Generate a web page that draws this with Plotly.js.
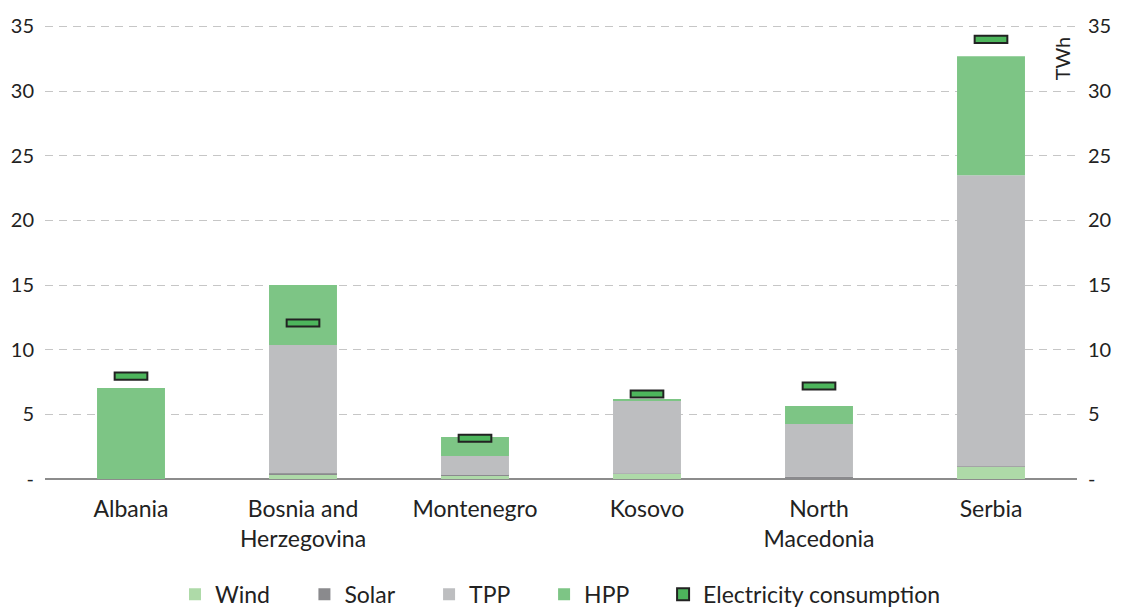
<!DOCTYPE html>
<html>
<head>
<meta charset="utf-8">
<script src="https://cdn.plot.ly/plotly-3.0.1.min.js"></script>
<style>html,body{margin:0;padding:0;background:#fff;}#chart{width:1121px;height:612px;}</style>
</head>
<body>
<div id="chart"></div>
<script>
var countries = ['Albania', 'Bosnia and<br>Herzegovina', 'Montenegro', 'Kosovo', 'North<br>Macedonia', 'Serbia'];
var seriesNames = ['Wind', 'Solar', 'TPP', 'HPP', 'Electricity consumption'];
var wind = [0.0, 0.35, 0.30, 0.40, 0.05, 0.95];
var solar = [0.0, 0.10, 0.01, 0.01, 0.15, 0.02];
var tpp = [0.0, 9.91, 1.47, 5.69, 4.05, 22.52];
var hpp = [7.03, 4.64, 1.47, 0.06, 1.39, 9.2];
var consumption = [7.96, 12.06, 3.15, 6.57, 7.19, 34.0];
var tickVals = [0, 5, 10, 15, 20, 25, 30, 35];
var tickText = ['-', '5', '10', '15', '20', '25', '30', '35'];

function addArr(a, b) { return a.map(function (v, i) { return v + b[i]; }); }
var baseSolar = wind.slice();
var baseTpp = addArr(wind, solar);
var baseHpp = addArr(baseTpp, tpp);

var FONT = 'Lato, "Source Sans Pro", "Noto Sans", sans-serif';
var barW = 0.395;
var consH = 0.55;
var PAD = '\u00a0\u00a0\u00a0\u00a0\u00a0';

var traces = [
  {type: 'bar', name: seriesNames[0] + PAD, x: countries, y: wind, base: 0, width: barW,
   marker: {color: '#aedaa8', line: {width: 0}}, hovertemplate: '%{y}<extra>Wind</extra>'},
  {type: 'bar', name: seriesNames[1] + PAD, x: countries, y: solar, base: baseSolar, width: barW,
   marker: {color: '#8a8a8d', line: {width: 0}}, hovertemplate: '%{y}<extra>Solar</extra>'},
  {type: 'bar', name: seriesNames[2] + PAD, x: countries, y: tpp, base: baseTpp, width: barW,
   marker: {color: '#bdbec0', line: {width: 0}}, hovertemplate: '%{y}<extra>TPP</extra>'},
  {type: 'bar', name: seriesNames[3] + PAD, x: countries, y: hpp, base: baseHpp, width: barW,
   marker: {color: '#7dc585', line: {width: 0}}, hovertemplate: '%{y}<extra>HPP</extra>'},
  {type: 'bar', name: seriesNames[4], x: countries,
   y: consumption.map(function () { return consH; }),
   base: consumption.map(function (v) { return v - consH / 2; }),
   width: 0.19,
   marker: {color: '#4db55c', line: {color: '#222222', width: 2}},
   customdata: consumption, hovertemplate: '%{customdata}<extra>Electricity consumption</extra>'}
];

var layout = {
  width: 1121, height: 612,
  margin: {l: 45, r: 44, t: 20, b: 133, autoexpand: false},
  paper_bgcolor: '#ffffff', plot_bgcolor: '#ffffff',
  barmode: 'overlay',
  font: {family: FONT, size: 20, color: '#222222'},
  showlegend: true,
  legend: {orientation: 'h', x: 0.5, xanchor: 'center', xref: 'container',
           y: 0.064, yanchor: 'top', yref: 'container',
           font: {family: FONT, size: 23, color: '#222222'}, traceorder: 'normal',
           itemwidth: 30},
  xaxis: {type: 'category', showgrid: false, zeroline: false, showline: false,
          ticks: '', ticklabelstandoff: 14,
          tickfont: {family: FONT, size: 23, color: '#222222'}, fixedrange: true},
  yaxis: {range: [0, 35.5], tickvals: tickVals, ticktext: tickText, showgrid: true,
          gridcolor: '#c6c6c6', gridwidth: 1.2, griddash: '8px,6px', zeroline: true,
          zerolinecolor: '#8c8c8c', zerolinewidth: 1.5, showline: false, ticks: '',
          ticklabelstandoff: 10,
          tickfont: {family: FONT, size: 20, color: '#222222'}, fixedrange: true},
  yaxis2: {range: [0, 35.5], tickvals: tickVals, ticktext: tickText, overlaying: 'y',
           side: 'right', showgrid: false, zeroline: false, showline: false, ticks: '',
           ticklabelstandoff: 10,
           tickfont: {family: FONT, size: 20, color: '#222222'}, fixedrange: true},
  annotations: [
    {text: 'TWh', xref: 'paper', yref: 'y', x: 0.985, y: 32.5, textangle: -90,
     showarrow: false, xanchor: 'center', yanchor: 'middle',
     font: {family: FONT, size: 20, color: '#222222'}}
  ]
};

// invisible trace to activate right axis
traces.push({type: 'scatter', x: [countries[0]], y: [0], yaxis: 'y2', mode: 'markers',
             marker: {opacity: 0}, showlegend: false, hoverinfo: 'skip'});

Plotly.newPlot('chart', traces, layout, {displayModeBar: false});
</script>
</body>
</html>
